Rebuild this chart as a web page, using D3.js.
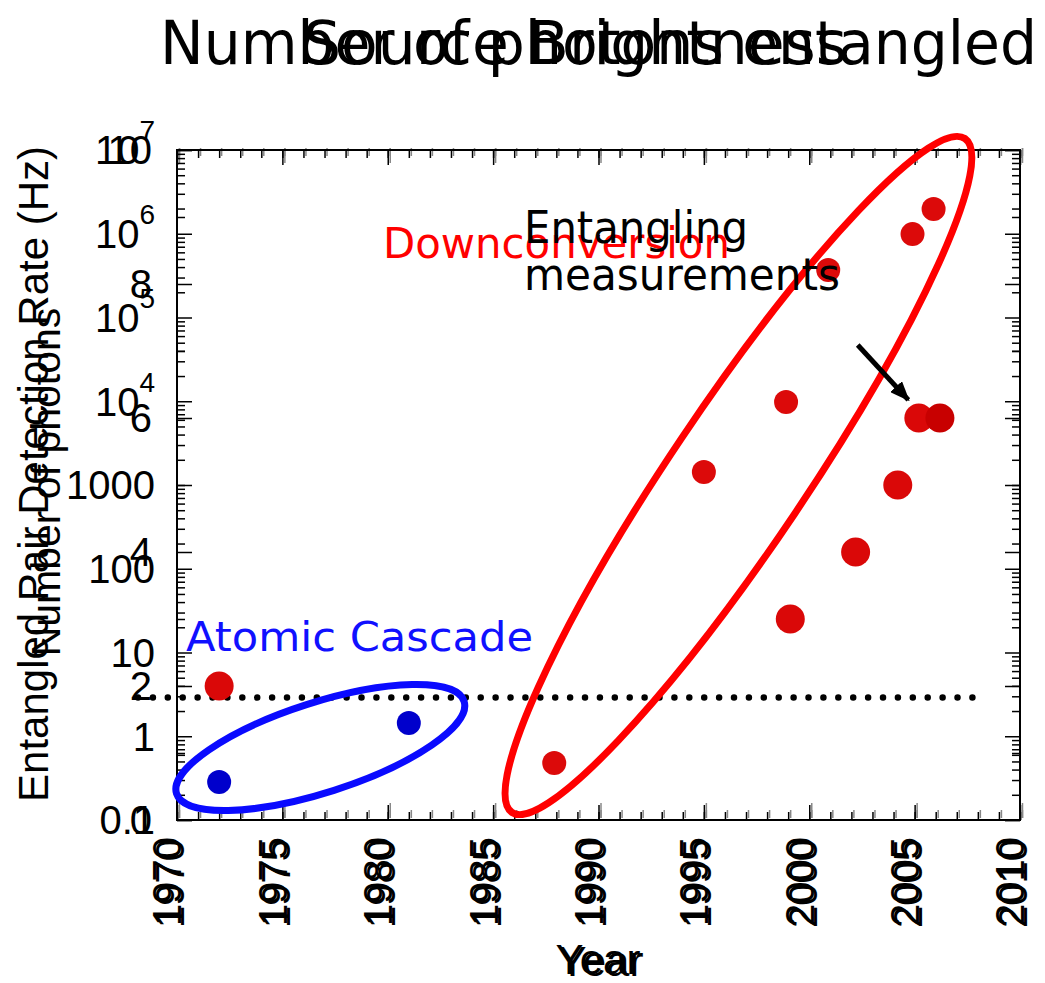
<!DOCTYPE html>
<html>
<head>
<meta charset="utf-8">
<script src="https://cdn.jsdelivr.net/npm/d3@7"></script>
<style>
  body { margin: 0; background: #fff; }
  svg { display: block; }
  .num { font-family: "Liberation Sans", Arial, sans-serif; fill: #000; }
  .comic { font-family: "DejaVu Sans", "Noto Sans", sans-serif; }
</style>
</head>
<body>
<div id="vis"></div>
<script>
// chart A: source brightness (log axis)
const rateYears  = [1972, 1981, 1987.9, 1995, 1998.9, 2000.9, 2004.9, 2005.9];
const rateValues = [0.284, 1.44, 0.48, 1430, 9800, 369000, 990000, 1980000];
const rateGroups = ['cascade', 'cascade', 'down', 'down', 'down', 'down', 'down', 'down'];

// chart B: number of photons entangled (linear axis)
const photonYears  = [1972, 1999.1, 2002.2, 2004.2, 2005.2, 2006.2];
const photonCounts = [2, 3, 4, 5, 6, 6];

const yearTicks = [1970, 1975, 1980, 1985, 1990, 1995, 2000, 2005, 2010];
const yearLabels = ['1970', '1975', '1980', '1985', '1990', '1995', '2000', '2005', '2010'];
const rateTicks = [0.1, 1, 10, 100, 1000, 1e4, 1e5, 1e6, 1e7];
const rateLabels = [['0.1'], ['1'], ['10'], ['100'], ['1000'], ['10', '4'], ['10', '5'], ['10', '6'], ['10', '7']];
const countTicks = [0, 2, 4, 6, 8, 10];
const countLabels = ['0', '2', '4', '6', '8', '10'];

// the dotted line (rate) and annotation anchors, in data units
const thresholdRate = 2.9;
const thresholdYears = [1968.15, 2008];
const groupEllipses = [
  { group: 'cascade', year: 1976.8, rate: 0.734, rx: 151, ry: 45, angle: -17.8 },
  { group: 'down',    year: 1996.64, rate: 1298, rx: 406, ry: 68, angle: -56.1 }
];
const arrowFrom = { year: 2002.3, rate: 47000 };
const arrowTo   = { year: 2004.7, rate: 10400 };

const W = 1045, H = 983;
const plot = { left: 177, right: 1020, top: 150, bottom: 820 };

const svg = d3.select('#vis').append('svg')
  .attr('width', W)
  .attr('height', H);

const x = d3.scaleLinear().domain([1970, 2010]).range([plot.left, plot.right]);
const yRate = d3.scaleLog().domain([0.1, 1e7]).range([plot.bottom, plot.top]);
const yCount = d3.scaleLinear().domain([0, 10]).range([plot.bottom, plot.top]);

const color = d3.scaleOrdinal().domain(['cascade', 'down']).range(['#0000cc', '#dc0a0a']);
const ringColor = d3.scaleOrdinal().domain(['cascade', 'down']).range(['#0a0aff', '#ff0000']);

// minor tick positions
const yearMinor = d3.range(1970, 2011, 1);
const rateMinor = [];
d3.range(-1, 7).forEach(function (d) {
  d3.range(2, 10).forEach(function (m) { rateMinor.push(m * Math.pow(10, d)); });
});
const countMinor = d3.range(1, 10, 2);

function ticks(axisFn, scale, values, size, transform, stroke) {
  svg.append('g')
    .attr('transform', transform)
    .call(axisFn(scale).tickValues(values).tickSizeInner(-size).tickSizeOuter(0).tickFormat(''))
    .call(function (g) { g.select('.domain').remove(); })
    .selectAll('line')
      .attr('stroke', stroke)
      .attr('stroke-width', 1.5);
}

// x ticks, drawn twice (two charts slightly out of register)
[['#888', 2, -2], ['#000', 0, 0]].forEach(function (c) {
  ticks(d3.axisBottom, x, yearMinor, 8, 'translate(' + c[1] + ',' + (plot.bottom + c[2]) + ')', c[0]);
  ticks(d3.axisBottom, x, yearTicks, 15, 'translate(' + c[1] + ',' + (plot.bottom + c[2]) + ')', c[0]);
  ticks(d3.axisTop, x, yearMinor, 8, 'translate(' + c[1] + ',' + (plot.top + c[2]) + ')', c[0]);
  ticks(d3.axisTop, x, yearTicks, 15, 'translate(' + c[1] + ',' + (plot.top + c[2]) + ')', c[0]);
});

// y ticks (log and linear together)
ticks(d3.axisLeft, yRate, rateMinor, 8, 'translate(' + plot.left + ',0)', '#000');
ticks(d3.axisLeft, yRate, rateTicks, 15, 'translate(' + plot.left + ',0)', '#000');
ticks(d3.axisRight, yRate, rateMinor, 8, 'translate(' + plot.right + ',0)', '#000');
ticks(d3.axisRight, yRate, rateTicks, 15, 'translate(' + plot.right + ',0)', '#000');
ticks(d3.axisLeft, yCount, countMinor, 8, 'translate(' + plot.left + ',0)', '#000');
ticks(d3.axisLeft, yCount, countTicks, 15, 'translate(' + plot.left + ',0)', '#000');
ticks(d3.axisRight, yCount, countMinor, 8, 'translate(' + plot.right + ',0)', '#000');
ticks(d3.axisRight, yCount, countTicks, 15, 'translate(' + plot.right + ',0)', '#000');

svg.append('rect')
  .attr('x', plot.left)
  .attr('y', plot.top)
  .attr('width', plot.right - plot.left)
  .attr('height', plot.bottom - plot.top)
  .attr('fill', 'none')
  .attr('stroke', '#000')
  .attr('stroke-width', 2);

// y labels
const rateLab = svg.append('g').attr('class', 'num').attr('font-size', 40).attr('text-anchor', 'end');
rateTicks.forEach(function (v, i) {
  const t = rateLab.append('text')
    .attr('x', 155)
    .attr('y', yRate(v))
    .attr('dy', '0.36em');
  t.append('tspan').text(rateLabels[i][0]);
  if (rateLabels[i][1]) {
    t.append('tspan').attr('dy', -24).attr('font-size', 28).text(rateLabels[i][1]);
  }
});

svg.append('g').attr('class', 'num').attr('font-size', 40).attr('text-anchor', 'end')
  .selectAll('text')
  .data(countTicks)
  .join('text')
    .attr('x', 152)
    .attr('y', function (d) { return yCount(d); })
    .attr('dy', '0.34em')
    .text(function (d, i) { return countLabels[i]; });

// x labels, twice
[[3, 2], [0, 0]].forEach(function (o) {
  svg.append('g').attr('class', 'num').attr('font-size', 40).attr('text-anchor', 'end')
    .selectAll('text')
    .data(yearTicks)
    .join('text')
      .attr('transform', function (d) { return 'translate(' + (x(d) - 10 + o[0]) + ',' + (837 + o[1]) + ') rotate(-90)'; })
      .attr('dy', '0.36em')
      .text(function (d, i) { return yearLabels[i]; });
  svg.append('text')
    .attr('class', 'num')
    .attr('font-size', 42)
    .attr('text-anchor', 'middle')
    .attr('x', 598 + o[0])
    .attr('y', 974 + o[1])
    .text('Year');
});

// axis titles
svg.append('text')
  .attr('class', 'num')
  .attr('font-size', 42)
  .attr('text-anchor', 'middle')
  .attr('transform', 'translate(48,474) rotate(-90)')
  .text('Entangled Pair Detection Rate (Hz)');
svg.append('text')
  .attr('class', 'num')
  .attr('font-size', 41)
  .attr('text-anchor', 'middle')
  .attr('transform', 'translate(60,482) rotate(-90)')
  .text('Number of photons');

// chart titles
svg.append('text')
  .attr('class', 'comic')
  .attr('font-size', 60)
  .attr('x', 160).attr('y', 64)
  .attr('textLength', 877).attr('lengthAdjust', 'spacingAndGlyphs')
  .text('Number of photons entangled');
svg.append('text')
  .attr('class', 'comic')
  .attr('font-size', 60)
  .attr('x', 303).attr('y', 64)
  .attr('textLength', 544).attr('lengthAdjust', 'spacingAndGlyphs')
  .text('Source Brightness');

// dotted line
svg.append('line')
  .attr('x1', x(thresholdYears[0]))
  .attr('x2', x(thresholdYears[1]))
  .attr('y1', yRate(thresholdRate))
  .attr('y2', yRate(thresholdRate))
  .attr('stroke', '#000')
  .attr('stroke-width', 6.5)
  .attr('stroke-linecap', 'round')
  .attr('stroke-dasharray', '0 14.9');

// dots
svg.append('g').selectAll('circle')
  .data(photonYears)
  .join('circle')
    .attr('cx', function (d) { return x(d); })
    .attr('cy', function (d, i) { return yCount(photonCounts[i]); })
    .attr('r', 14.5)
    .attr('fill', function (d, i) { return i === photonYears.length - 1 ? '#c80000' : '#da0808'; });

svg.append('g').selectAll('circle')
  .data(rateYears)
  .join('circle')
    .attr('cx', function (d) { return x(d); })
    .attr('cy', function (d, i) { return yRate(rateValues[i]); })
    .attr('r', 12)
    .attr('fill', function (d, i) { return color(rateGroups[i]); });

// group rings
svg.append('g').selectAll('ellipse')
  .data(groupEllipses)
  .join('ellipse')
    .attr('cx', function (d) { return x(d.year); })
    .attr('cy', function (d) { return yRate(d.rate); })
    .attr('rx', function (d) { return d.rx; })
    .attr('ry', function (d) { return d.ry; })
    .attr('transform', function (d) { return 'rotate(' + d.angle + ',' + x(d.year) + ',' + yRate(d.rate) + ')'; })
    .attr('fill', 'none')
    .attr('stroke', function (d) { return ringColor(d.group); })
    .attr('stroke-width', 7);

// arrow
svg.append('defs').append('marker')
  .attr('id', 'head')
  .attr('markerUnits', 'userSpaceOnUse')
  .attr('viewBox', '0 0 20 16')
  .attr('refX', 18).attr('refY', 8)
  .attr('markerWidth', 20).attr('markerHeight', 16)
  .attr('orient', 'auto')
  .append('path')
    .attr('d', 'M0,0 L20,8 L0,16 Z')
    .attr('fill', '#000');
svg.append('line')
  .attr('x1', x(arrowFrom.year)).attr('y1', yRate(arrowFrom.rate))
  .attr('x2', x(arrowTo.year)).attr('y2', yRate(arrowTo.rate))
  .attr('stroke', '#000')
  .attr('stroke-width', 5)
  .attr('marker-end', 'url(#head)');

// annotations
svg.append('text')
  .attr('class', 'comic')
  .attr('font-size', 42)
  .attr('fill', '#ff0000')
  .attr('x', 383).attr('y', 258)
  .attr('textLength', 347).attr('lengthAdjust', 'spacingAndGlyphs')
  .text('Downconversion');
svg.append('text')
  .attr('class', 'comic')
  .attr('font-size', 44)
  .attr('fill', '#000')
  .attr('x', 524).attr('y', 243)
  .attr('textLength', 224).attr('lengthAdjust', 'spacingAndGlyphs')
  .text('Entangling');
svg.append('text')
  .attr('class', 'comic')
  .attr('font-size', 44)
  .attr('fill', '#000')
  .attr('x', 524).attr('y', 290)
  .attr('textLength', 316).attr('lengthAdjust', 'spacingAndGlyphs')
  .text('measurements');
svg.append('text')
  .attr('class', 'comic')
  .attr('font-size', 40)
  .attr('fill', '#1010ff')
  .attr('x', 186).attr('y', 651)
  .attr('textLength', 347).attr('lengthAdjust', 'spacingAndGlyphs')
  .text('Atomic Cascade');
</script>
</body>
</html>
